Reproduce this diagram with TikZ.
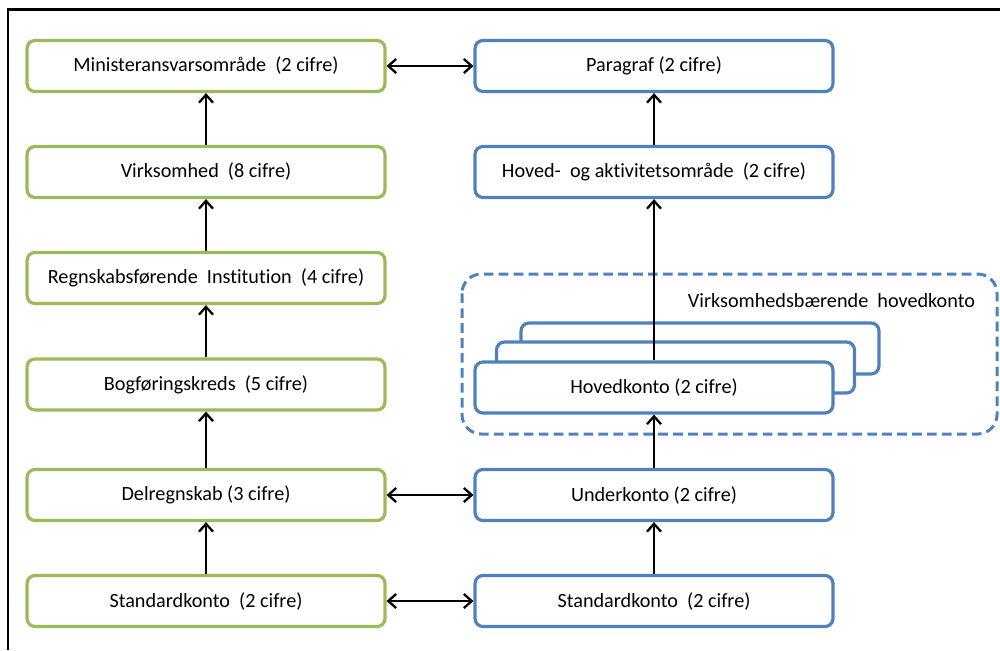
\documentclass[tikz,border=0pt]{standalone}
\usepackage{fontspec}
\setmainfont{Carlito}[Ligatures=NoCommon]
\usetikzlibrary{arrows.meta}
\definecolor{kontogreen}{RGB}{155,187,89}
\definecolor{kontoblue}{RGB}{79,129,189}
\tikzset{
  greenbox/.style={draw=kontogreen, line width=1.8pt, rounded corners=4.5pt, fill=white,
    minimum width=7.16cm, minimum height=1.02cm, inner sep=0pt,
    font=\fontsize{11.5}{13}\selectfont},
  bluebox/.style={greenbox, draw=kontoblue},
  link/.style={line width=1.3pt, -{Straight Barb[length=4.5pt,width=8pt]}},
  twoway/.style={link, {Straight Barb[length=4.5pt,width=8pt]}-{Straight Barb[length=4.5pt,width=8pt]}}
}
\begin{document}
\begin{tikzpicture}[x=0.02cm, y=-0.02cm]
        \useasboundingbox (0,0) rectangle (1000,650);
        %frame
        \draw[line width=1.7pt] (8,650) -- (8,9.5) -- (1000,9.5);
        %left column
        \node[greenbox] (min) at (206,66) {Ministeransvarsområde\ \ (2 cifre)};
        \node[greenbox] (virk) at (206,172) {Virksomhed\ \ (8 cifre)};
        \node[greenbox] (inst) at (206,278) {Regnskabsførende\ \ Institution\ \ (4 cifre)};
        \node[greenbox] (bogf) at (206,384.5) {Bogføringskreds\ \ (5 cifre)};
        \node[greenbox] (delr) at (206,495) {Delregnskab (3 cifre)};
        \node[greenbox] (stdl) at (206,601) {Standardkonto\ \ (2 cifre)};
        %right column
        \node[bluebox] (par) at (654,66) {Paragraf (2 cifre)};
        \node[bluebox] (hoved) at (654,172) {Hoved-\ \ og aktivitetsområde\ \ (2 cifre)};
        \draw[kontoblue, line width=1.7pt, dash pattern=on 5.5pt off 3pt, rounded corners=11pt]
            (462,274) rectangle (997,434);
        \node[font=\fontsize{11.5}{13}\selectfont] (vbh) at (831.5,301) {Virksomhedsbærende\ \ hovedkonto};
        \node[bluebox] (hk3) at (700,348.5) {};
        \node[bluebox] (hk2) at (675.5,367.5) {};
        \node[bluebox] (hk) at (654,387.5) {Hovedkonto (2 cifre)};
        \node[bluebox] (under) at (654,495) {Underkonto (2 cifre)};
        \node[bluebox] (stdr) at (654,601) {Standardkonto\ \ (2 cifre)};
        %arrows up
        \draw[link] (virk) -- (min);
        \draw[link] (inst) -- (virk);
        \draw[link] (bogf) -- (inst);
        \draw[link] (delr) -- (bogf);
        \draw[link] (stdl) -- (delr);
        \draw[link] (hoved) -- (par);
        \draw[link] (hk) -- (hoved);
        \draw[link] (under) -- (hk);
        \draw[link] (stdr) -- (under);
        %arrows across
        \draw[twoway] (min) -- (par);
        \draw[twoway] (delr) -- (under);
        \draw[twoway] (stdl) -- (stdr);
    \end{tikzpicture}
\end{document}
